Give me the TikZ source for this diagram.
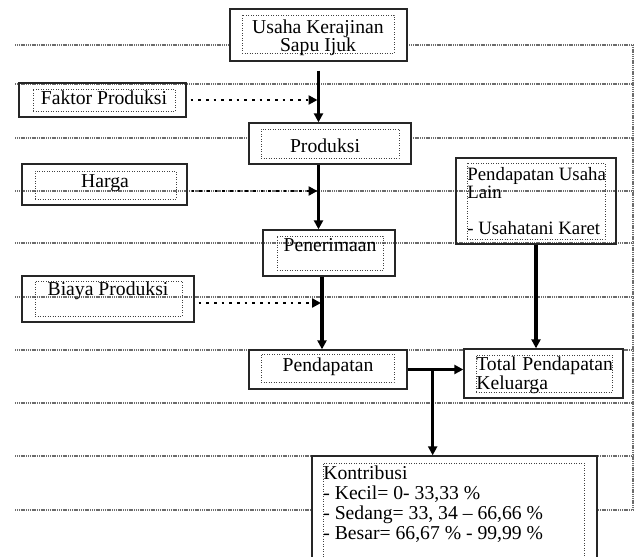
\documentclass[tikz,border=0pt]{standalone}
\usepackage{fontspec}
\setmainfont{Liberation Serif}
\usetikzlibrary{arrows.meta,fit}

\begin{document}
\begin{tikzpicture}[x=0.6pt,y=-0.6pt,
    pageline/.style={gray!85!black,line width=1pt,dash pattern=on 0.7pt off 0.4pt},
    outerbox/.style={draw=black!85,line width=0.8pt,inner sep=0pt},
    innerbox/.style={draw=black!75,densely dotted,line width=0.5pt,inner sep=0pt},
    flow/.style={-{Triangle[length=5.4pt,width=5.4pt]},line width=2pt},
    feed/.style={-{Triangle[length=5.4pt,width=5.4pt]},line width=1.6pt,dash pattern=on 1.6pt off 3pt},
    label/.style={inner sep=0pt,font=\fontsize{11.8}{10.8}\selectfont}]
        \clip (0,0) rectangle (635,557);
        \fill[white] (0,0) rectangle (635,557);

        % ruled lines of the page
        \foreach \y in {45,84,138,191,243,297,350,403,456,510} {
          \draw[pageline] (15,\y) -- (633,\y);
        }
        \draw[pageline] (633,45) -- (633,510);

        % main chain
        \node[outerbox,fill=white,fit={(230,9) (407,61)}] (usaha) {};
        \node[innerbox,fit={(242,15) (394,53)}] (usaha-in) {};
        \node[label,anchor=north,align=center] (usaha-txt) at (318,20) {Usaha Kerajinan\\Sapu Ijuk};

        \node[outerbox,fill=white,fit={(249,123) (411,164)}] (produksi) {};
        \node[innerbox,fit={(261,129) (399,158)}] (produksi-in) {};
        \node[label,anchor=base] (produksi-txt) at (325,153) {Produksi};

        \node[outerbox,fit={(263,230) (395,276)}] (penerimaan) {};
        \node[innerbox,fit={(277,236) (383,270)}] (penerimaan-in) {};
        \node[label,anchor=base] (penerimaan-txt) at (330,252) {Penerimaan};

        \node[outerbox,fill=white,fit={(249,350) (407,389)}] (pendapatan) {};
        \node[innerbox,fit={(261,354) (394,382)}] (pendapatan-in) {};
        \node[label,anchor=base] (pendapatan-txt) at (328,372) {Pendapatan};

        % inputs on the left
        \node[outerbox,fit={(19,83) (186,117)}] (faktor) {};
        \node[innerbox,fit={(33,89) (175,111)}] (faktor-in) {};
        \node[label,anchor=base] (faktor-txt) at (104,105) {Faktor Produksi};

        \node[outerbox,fit={(22,164) (187,205)}] (harga) {};
        \node[innerbox,fit={(35,171) (176,199)}] (harga-in) {};
        \node[label,anchor=base] (harga-txt) at (105,188) {Harga};

        \node[outerbox,fit={(22,276) (194,322)}] (biaya) {};
        \node[innerbox,fit={(35,281) (182,316)}] (biaya-in) {};
        \node[label,anchor=base] (biaya-txt) at (108,296) {Biaya Produksi};

        % right hand side
        \node[outerbox,fit={(456,158) (616,244)}] (lain) {};
        \node[innerbox,fit={(467,163) (605,239)}] (lain-in) {};
        \node[label,anchor=north west,align=left,
          font=\fontsize{11.3}{10.8}\selectfont] (lain-txt) at (467,167)
          {Pendapatan Usaha\\Lain\\[10.8pt]- Usahatani Karet};

        \node[outerbox,fill=white,fit={(464,349) (623,398)}] (total) {};
        \node[innerbox,fit={(476,355) (612,392)}] (total-in) {};
        \node[label,anchor=north west,text width=82pt,align=left,
          font=\fontsize{11.8}{11.4}\selectfont] (total-txt) at (476,357)
          {Total\hfill Pendapatan\\Keluarga};

        \node[outerbox,fill=white,fit={(312,456) (597,575)}] (kontribusi) {};
        \node[innerbox,fit={(323,463) (584,570)}] (kontribusi-in) {};
        \node[label,anchor=north west,align=left,
          font=\fontsize{11.8}{12}\selectfont] (kontribusi-txt) at (323,466)
          {Kontribusi\\- Kecil= 0- 33,33 \%\\- Sedang= 33, 34 – 66,66 \%\\- Besar= 66,67 \% - 99,99 \%};

        % connectors
        \coordinate (spine) at ([xshift=-4.2pt]penerimaan.south);
        \coordinate (hg) at ([yshift=-3.9pt]harga.east);
        \coordinate (bp) at ([yshift=-2.4pt]biaya.east);
        \coordinate (split) at ([xshift=15pt]pendapatan.east);

        \draw[flow,shorten <=5.4pt] (usaha.south) -- (produksi.north -| usaha.south);
        \draw[flow] (produksi.south -| usaha.south) -- (penerimaan.north -| usaha.south);
        \draw[flow] (spine) -- (spine |- pendapatan.north);

        \draw[feed,shorten <=2.4pt,shorten >=0.6pt] (faktor.east) -- (faktor.east -| usaha.south);
        \draw[feed,shorten <=2.4pt,shorten >=0.6pt] (hg) -- (hg -| usaha.south);
        \draw[feed,shorten <=2.4pt,shorten >=0.6pt] (bp) -- (bp -| spine);

        \draw[flow] (pendapatan.east) -- (pendapatan.east -| total.west);
        \draw[flow] (split) -- (split |- kontribusi.north);
        \draw[flow] (lain.south) -- (lain.south |- total.north);
      \end{tikzpicture}
\end{document}
